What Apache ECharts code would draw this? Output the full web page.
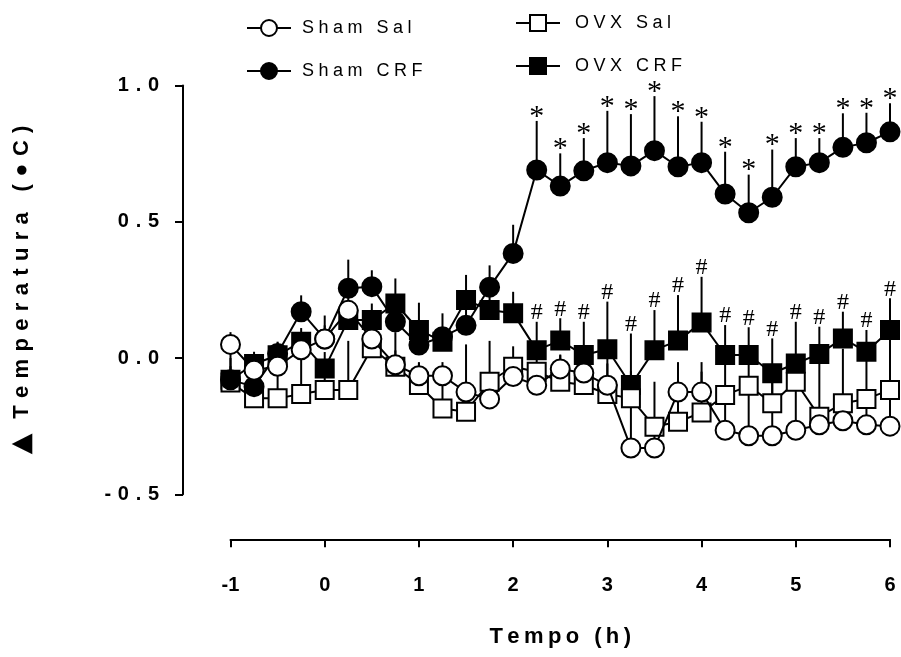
<!DOCTYPE html>
<html><head><meta charset="utf-8">
<script src="https://cdn.jsdelivr.net/npm/echarts@6/dist/echarts.min.js"></script>
<style>html,body{margin:0;padding:0;background:#fff}#c{width:901px;height:657px}</style>
</head><body><div id="c"></div>
<script>
// ---- data ----
const times = [-1,-0.75,-0.5,-0.25,0,0.25,0.5,0.75,1,1.25,1.5,1.75,2,2.25,2.5,2.75,3,3.25,3.5,3.75,4,4.25,4.5,4.75,5,5.25,5.5,5.75,6];
const xTicks = [-1,0,1,2,3,4,5,6];
const yTicks = [-0.5,0,0.5,1.0];

const shamSal    = [0.05,-0.045,-0.03,0.03,0.07,0.175,0.07,-0.025,-0.065,-0.065,-0.125,-0.15,-0.068,-0.1,-0.04,-0.055,-0.1,-0.33,-0.33,-0.125,-0.125,-0.265,-0.285,-0.285,-0.265,-0.245,-0.23,-0.245,-0.25];
const shamSalSem = [0.045,0.05,0.05,0.05,0.086,0.05,0.05,0.12,0.05,0.05,0.175,0.06,0.04,0.06,0.05,0.05,0.08,0.2,0.08,0.11,0.11,0.13,0.17,0.2,0.18,0.05,0.1,0.1,0.1];

const shamCRF    = [-0.08,-0.105,0.017,0.17,0.07,0.256,0.262,0.133,0.048,0.078,0.12,0.26,0.384,0.69,0.631,0.687,0.717,0.705,0.761,0.702,0.717,0.602,0.533,0.59,0.702,0.717,0.773,0.79,0.83];
const shamCRFSem = [0.1,0.07,0.04,0.06,0.05,0.105,0.06,0.05,0.05,0.086,0.06,0.08,0.105,0.18,0.12,0.12,0.19,0.19,0.2,0.185,0.15,0.155,0.14,0.175,0.105,0.09,0.125,0.11,0.105];

const ovxSal     = [-0.09,-0.148,-0.148,-0.132,-0.117,-0.117,0.036,-0.032,-0.099,-0.185,-0.197,-0.087,-0.032,-0.05,-0.087,-0.099,-0.132,-0.148,-0.252,-0.234,-0.2,-0.136,-0.102,-0.166,-0.087,-0.215,-0.166,-0.15,-0.117];
const ovxSalSem  = [0.06,0.08,0.1,0.13,0.1,0.18,0.05,0.06,0.08,0.12,0.1,0.15,0.075,0.06,0.1,0.1,0.13,0.1,0.165,0.15,0.15,0.12,0.1,0.09,0.06,0.2,0.2,0.15,0.19];

const ovxCRF     = [-0.08,-0.022,0.01,0.06,-0.038,0.14,0.14,0.2,0.103,0.06,0.213,0.176,0.164,0.029,0.064,0.011,0.032,-0.099,0.029,0.064,0.13,0.011,0.011,-0.056,-0.02,0.015,0.072,0.023,0.103];
const ovxCRFSem  = [0.08,0.045,0.05,0.05,0.06,0.06,0.06,0.092,0.1,0.05,0.092,0.05,0.079,0.104,0.082,0.122,0.175,0.189,0.147,0.167,0.168,0.11,0.102,0.128,0.153,0.1,0.098,0.08,0.116];

// times with significance markers
const starTimes = [2.25,2.5,2.75,3,3.25,3.5,3.75,4,4.25,4.5,4.75,5,5.25,5.5,5.75,6];
const hashTimes = [2.25,2.5,2.75,3,3.25,3.5,3.75,4,4.25,4.5,4.75,5,5.25,5.5,5.75,6];

// ---- helpers ----
const FONT = '"Liberation Sans", Arial, "DejaVu Sans", sans-serif';
const SERIF = '"Liberation Serif", "Times New Roman", serif';
function sp(s, gap) { return s.split('').join(gap); }
function pairs(vals) { return times.map((t, i) => [t, vals[i]]); }

function errSeries(vals, sem) {
  return {
    type: 'custom', silent: true, clip: false, z: 2, animation: false,
    data: times.map((t, i) => [t, vals[i], vals[i] + sem[i]]),
    renderItem(params, api) {
      const a = api.coord([api.value(0), api.value(1)]);
      const b = api.coord([api.value(0), api.value(2)]);
      return { type: 'line', shape: { x1: a[0], y1: a[1], x2: b[0], y2: b[1] },
               style: { stroke: '#000', lineWidth: 2 } };
    }
  };
}
function markSeries(txt, at, vals, sem, size, dy) {
  return {
    type: 'custom', silent: true, clip: false, z: 9, animation: false,
    data: at.map(t => { const i = times.indexOf(t); return [t, vals[i] + sem[i]]; }),
    renderItem(params, api) {
      const p = api.coord([api.value(0), api.value(1)]);
      return { type: 'text', x: p[0], y: p[1] + dy,
               style: { text: txt, font: size + 'px ' + SERIF, fill: '#000',
                        align: 'center', verticalAlign: 'bottom', textAlign: 'center', textVerticalAlign: 'bottom' } };
    }
  };
}
function lineSeries(name, vals, symbol, filled, size, z) {
  return {
    type: 'line', name, data: pairs(vals), symbol, symbolSize: size, showSymbol: true,
    clip: false, z, animation: false,
    lineStyle: { color: '#000', width: 2 },
    itemStyle: { color: filled ? '#000' : '#fff', borderColor: '#000', borderWidth: 2 },
    emphasis: { disabled: true }
  };
}

const chart = echarts.init(document.getElementById('c'), null, { renderer: 'canvas' });
const legendTextL = { fontFamily: FONT, fontSize: 18, color: '#000', padding: [0, 0, 0, 6] };
const legendTextR = { fontFamily: FONT, fontSize: 18, color: '#000', padding: [0, 0, 0, 10] };
chart.setOption({
  animation: false,
  backgroundColor: '#fff',
  grid: { left: 230.5, right: 11, top: 85.5, bottom: 162.7 },
  legend: [
    { data: ['Sham Sal', 'Sham CRF'], orient: 'vertical', left: 246, top: 19, padding: 0, itemWidth: 44, itemHeight: 20,
      itemGap: 25, textStyle: legendTextL, formatter: n => sp(n, '\u2005'), selectedMode: false },
    { data: ['OVX Sal', 'OVX CRF'], orient: 'vertical', left: 515, top: 14, padding: 0, itemWidth: 44, itemHeight: 20,
      itemGap: 25, textStyle: legendTextR, formatter: n => sp(n, '\u2005'), selectedMode: false }
  ],
  xAxis: {
    type: 'value', min: xTicks[0], max: xTicks[xTicks.length - 1], interval: 1, offset: 45,
    axisLine: { show: true, onZero: false, lineStyle: { color: '#000', width: 2 } },
    axisTick: { show: true, length: 8, lineStyle: { color: '#000', width: 2 } },
    splitLine: { show: false },
    axisLabel: { margin: 36, color: '#000', fontFamily: FONT, fontSize: 20, fontWeight: 'bold',
                 formatter: v => String(v) },
    name: sp('Tempo (h)', '\u2009'), nameLocation: 'middle', nameGap: 87,
    nameTextStyle: { color: '#000', fontFamily: FONT, fontSize: 22, fontWeight: 'bold' }
  },
  yAxis: {
    type: 'value', min: yTicks[0], max: yTicks[yTicks.length - 1], interval: 0.5, offset: 47.5,
    axisLine: { show: true, onZero: false, lineStyle: { color: '#000', width: 2 } },
    axisTick: { show: true, length: 8, lineStyle: { color: '#000', width: 2 } },
    splitLine: { show: false },
    axisLabel: { margin: 24, color: '#000', fontFamily: FONT, fontSize: 20, fontWeight: 'bold',
                 formatter: v => sp(v.toFixed(1), '\u2004') },
    name: '{tri|\u25B2}\u2004\u2004' + sp('Temperatura (\u25CFC)', '\u2004'),
    nameLocation: 'middle', nameGap: 148, nameRotate: 90,
    nameTextStyle: { color: '#000', fontFamily: FONT, fontSize: 22, fontWeight: 'bold',
                     rich: { tri: { fontSize: 27, fontFamily: '"DejaVu Sans", sans-serif', color: '#000' } } }
  },
  series: [
    errSeries(shamSal, shamSalSem),
    errSeries(shamCRF, shamCRFSem),
    errSeries(ovxSal, ovxSalSem),
    errSeries(ovxCRF, ovxCRFSem),
    lineSeries('OVX CRF', ovxCRF, 'rect', true, 18, 3),
    lineSeries('OVX Sal', ovxSal, 'rect', false, 18, 4),
    lineSeries('Sham CRF', shamCRF, 'circle', true, 19, 5),
    lineSeries('Sham Sal', shamSal, 'circle', false, 19, 6),
    markSeries('*', starTimes, shamCRF, shamCRFSem, 30, 11),
    markSeries('#', hashTimes, ovxCRF, ovxCRFSem, 24, 3)
  ]
});
</script></body></html>
